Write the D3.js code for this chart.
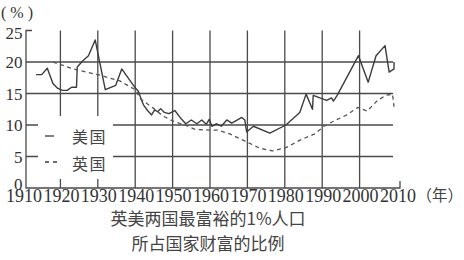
<!DOCTYPE html>
<html><head><meta charset="utf-8">
<script src="https://cdn.jsdelivr.net/npm/d3@7/dist/d3.min.js"></script>
<style>
html,body{margin:0;padding:0;background:#fff;}
svg{display:block;}
</style></head>
<body>
<script>
// ---- data ----
const usYears  = [1913.5,1915,1916.5,1918,1919.3,1920.5,1921.8,1923,1924.3,1924.5,1926,1927.5,1929.3,1932,1934.8,1936.4,1940,1940.8,1941.8,1942.2,1943.3,1944.4,1945.2,1946,1946.8,1947.8,1949,1950.6,1952,1953.5,1955,1956.5,1957.8,1959,1959.8,1960.5,1961.8,1963,1964.5,1965.8,1967,1968.5,1969.3,1969.8,1971.6,1976,1980.3,1984,1985.7,1987.4,1987.6,1991.2,1992.5,1993,1994,1999.7,2002.3,2004.4,2006.8,2007.9,2009.2,2009.2];
const usValues = [18.0,18.0,19.0,16.6,15.8,15.5,15.5,16.0,16.0,19.2,20.2,21.0,23.5,15.6,16.3,18.9,15.9,15.4,13.8,13.2,12.3,11.6,12.4,12.1,12.6,12.0,11.8,12.3,11.2,10.2,10.8,10.2,10.8,10.1,10.9,9.8,10.2,9.8,10.8,10.3,10.7,11.2,10.8,8.9,9.8,8.7,10.0,12.0,14.9,12.5,14.7,13.9,14.3,13.8,14.7,21.0,16.8,21.0,22.6,18.4,18.9,20.0];
const ukYears  = [1918,1923.4,1930.6,1935.9,1940.3,1941.1,1945,1947.5,1950.2,1953.3,1956,1960,1962,1965.3,1969.5,1973.4,1976.7,1980.3,1984.1,1988,1990.5,1993,1996.6,1999.5,2002,2004.8,2007,2008.8,2009.2];
const ukValues = [20.0,18.9,17.9,17.0,15.5,14.3,12.6,11.4,10.6,10.0,9.3,9.2,9.2,8.6,7.4,6.3,5.9,6.4,7.6,8.6,9.8,10.6,11.6,12.8,12.2,13.9,14.7,14.9,12.9];
const xTicks = [1910,1920,1930,1940,1950,1960,1970,1980,1990,2000,2010];
const yTicks = [0,5,10,15,20,25];
const seriesNames = ["美国","英国"];
const titleLines = ["英美两国最富裕的1%人口","所占国家财富的比例"];
const yUnit = "( % )";
const xUnit = "（年）";

// ---- drawing ----
const W = 464, H = 260;
const svg = d3.select("body").append("svg").attr("width", W).attr("height", H);
const x = d3.scaleLinear().domain([1910, 2010]).range([23, 397]);
const y = d3.scaleLinear().domain([0, 25]).range([188, 30.5]);
const axisX = x(1910) + 3;      // y-axis line position
const endX = x(2010) + 3;       // right end of x-axis
const ink = "#3c3c3c";
const serif = "'Liberation Serif','DejaVu Serif',serif";
const cjk = "'Noto Sans CJK SC','Noto Sans CJK JP',sans-serif";

const grid = svg.append("g").attr("stroke", "#4a4a4a").attr("stroke-width", 1.3).attr("fill", "none");
// horizontal gridlines
grid.selectAll("line.h").data(yTicks.filter(v => v > 0 && v < 25)).join("line")
  .attr("x1", axisX).attr("x2", x(2010) - 4)
  .attr("y1", d => y(d)).attr("y2", d => y(d));
// vertical gridlines
grid.selectAll("line.v").data(xTicks.filter(v => v > 1910 && v < 2010)).join("line")
  .attr("x1", d => x(d)).attr("x2", d => x(d))
  .attr("y1", y(0)).attr("y2", y(25));

// legend background (hides gridlines)
const lg = svg.append("g");
lg.append("rect").attr("x", 38).attr("y", 116).attr("width", 75).attr("height", 63).attr("fill", "#fff");
lg.append("line").attr("x1", 45).attr("x2", 54).attr("y1", 136).attr("y2", 136)
  .attr("stroke", ink).attr("stroke-width", 1.3);
lg.append("line").attr("x1", 45).attr("x2", 58).attr("y1", 162).attr("y2", 162)
  .attr("stroke", ink).attr("stroke-width", 1.3).attr("stroke-dasharray", "4,4");
lg.selectAll("text").data(seriesNames).join("text")
  .attr("x", 72).attr("y", (d, i) => 136 + i * 27)
  .attr("dominant-baseline", "central")
  .attr("font-family", cjk).attr("font-size", 16).attr("letter-spacing", 1.5)
  .attr("fill", "#444").text(d => d);

// axes
const ax = svg.append("g").attr("stroke", "#4a4a4a").attr("stroke-width", 1.3).attr("fill", "none");
ax.append("path").attr("d", `M${axisX + 6},${y(25)} H${axisX} V${y(0)} H${endX} V${y(0) - 7}`);

// data lines
const line = d3.line().x(d => x(d[0])).y(d => y(d[1]));
svg.append("path").datum(usYears.map((t, i) => [t, usValues[i]]))
  .attr("d", line).attr("fill", "none").attr("stroke", ink).attr("stroke-width", 1.4)
  .attr("stroke-linejoin", "round");
svg.append("path").datum(ukYears.map((t, i) => [t, ukValues[i]]))
  .attr("d", line).attr("fill", "none").attr("stroke", "#555").attr("stroke-width", 1.3)
  .attr("stroke-dasharray", "4,3.5");

// tick labels
svg.append("g").selectAll("text").data(yTicks).join("text")
  .attr("x", 22.5).attr("y", d => y(d) + 6 + (d === 25 ? 2 : 0) + (d === 0 ? -4 : 0))
  .attr("text-anchor", "end").attr("font-family", serif).attr("font-size", 17)
  .attr("fill", "#333").text(d => d);
svg.append("g").selectAll("text").data(xTicks).join("text")
  .attr("x", d => x(d) + 1).attr("y", 201.5)
  .attr("text-anchor", "middle").attr("font-family", serif).attr("font-size", 18)
  .attr("fill", "#333").text(d => d);

svg.append("text").attr("x", 1).attr("y", 18).attr("font-family", serif).attr("font-size", 16)
  .attr("fill", "#333").text(yUnit);
svg.append("text").attr("x", 416.5).attr("y", 201).attr("font-family", cjk).attr("font-size", 15.5)
  .attr("fill", "#444").text(xUnit);

svg.append("g").selectAll("text").data(titleLines).join("text")
  .attr("x", 208).attr("y", (d, i) => 217 + i * 25)
  .attr("text-anchor", "middle").attr("dominant-baseline", "central")
  .attr("font-family", cjk).attr("font-size", 17)
  .attr("fill", "#444").text(d => d);
</script>
</body></html>
